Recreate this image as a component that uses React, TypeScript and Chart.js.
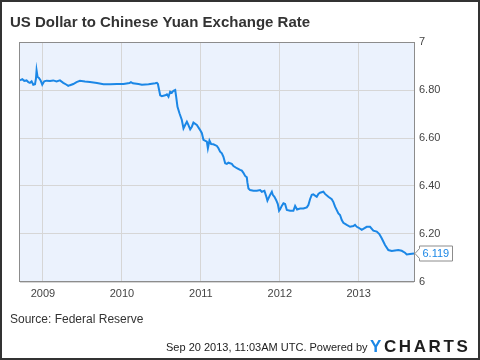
import React, { useEffect, useRef } from "react";
import { Chart, registerables } from "chart.js";

Chart.register(...registerables);

const title = "US Dollar to Chinese Yuan Exchange Rate";
const sourceText = "Source: Federal Reserve";
const footerText = "Sep 20 2013, 11:03AM UTC. Powered by";

// decimal years
const dates = [
  2008.709, 2008.738, 2008.763, 2008.792, 2008.814, 2008.835, 2008.856, 2008.877, 2008.899, 2008.911,
  2008.919, 2008.932, 2008.949, 2008.970, 2008.991, 2009.016, 2009.046, 2009.089, 2009.130, 2009.172,
  2009.215, 2009.257, 2009.299, 2009.320, 2009.342, 2009.384, 2009.425, 2009.468, 2009.532, 2009.595,
  2009.684, 2009.767, 2009.852, 2009.937, 2010.020, 2010.096, 2010.114, 2010.139, 2010.210, 2010.253,
  2010.337, 2010.422, 2010.443, 2010.456, 2010.468, 2010.485, 2010.506, 2010.548, 2010.570, 2010.590,
  2010.611, 2010.633, 2010.653, 2010.675, 2010.687, 2010.704, 2010.729, 2010.759, 2010.780, 2010.801,
  2010.823, 2010.843, 2010.865, 2010.886, 2010.906, 2010.949, 2010.991, 2011.013, 2011.033, 2011.076,
  2011.089, 2011.109, 2011.130, 2011.159, 2011.203, 2011.223, 2011.244, 2011.266, 2011.286, 2011.308,
  2011.329, 2011.349, 2011.392, 2011.413, 2011.456, 2011.497, 2011.519, 2011.539, 2011.561, 2011.582,
  2011.590, 2011.603, 2011.624, 2011.666, 2011.709, 2011.751, 2011.772, 2011.805, 2011.827, 2011.843,
  2011.877, 2011.899, 2011.911, 2011.932, 2011.953, 2011.975, 2011.991, 2012.004, 2012.025, 2012.046,
  2012.067, 2012.089, 2012.130, 2012.172, 2012.194, 2012.219, 2012.257, 2012.299, 2012.342, 2012.362,
  2012.384, 2012.405, 2012.425, 2012.468, 2012.489, 2012.510, 2012.552, 2012.573, 2012.615, 2012.658,
  2012.679, 2012.700, 2012.742, 2012.763, 2012.785, 2012.805, 2012.848, 2012.890, 2012.932, 2012.953,
  2012.975, 2012.995, 2013.038, 2013.058, 2013.101, 2013.143, 2013.185, 2013.228, 2013.261, 2013.291,
  2013.333, 2013.375, 2013.418, 2013.459, 2013.501, 2013.544, 2013.586, 2013.608, 2013.649, 2013.700,
];

const rates = [
  6.840, 6.845, 6.838, 6.840, 6.833, 6.830, 6.836, 6.822, 6.824, 6.847,
  6.882, 6.854, 6.850, 6.840, 6.822, 6.836, 6.839, 6.838, 6.840, 6.836,
  6.840, 6.830, 6.822, 6.817, 6.820, 6.825, 6.833, 6.838, 6.835, 6.833,
  6.829, 6.824, 6.824, 6.825, 6.825, 6.829, 6.833, 6.828, 6.825, 6.822,
  6.824, 6.828, 6.830, 6.825, 6.805, 6.778, 6.774, 6.778, 6.782, 6.772,
  6.793, 6.789, 6.797, 6.800, 6.772, 6.730, 6.703, 6.675, 6.640, 6.654,
  6.668, 6.654, 6.636, 6.647, 6.664, 6.654, 6.633, 6.620, 6.592, 6.585,
  6.557, 6.589, 6.575, 6.574, 6.567, 6.557, 6.543, 6.536, 6.522, 6.495,
  6.492, 6.497, 6.492, 6.483, 6.474, 6.467, 6.464, 6.455, 6.442, 6.436,
  6.414, 6.390, 6.383, 6.380, 6.380, 6.383, 6.376, 6.380, 6.358, 6.339,
  6.363, 6.376, 6.363, 6.355, 6.342, 6.325, 6.297, 6.303, 6.317, 6.328,
  6.325, 6.300, 6.297, 6.297, 6.317, 6.302, 6.306, 6.306, 6.311, 6.321,
  6.346, 6.363, 6.365, 6.355, 6.367, 6.372, 6.376, 6.367, 6.355, 6.345,
  6.333, 6.314, 6.286, 6.279, 6.258, 6.247, 6.238, 6.230, 6.233, 6.238,
  6.230, 6.227, 6.217, 6.221, 6.230, 6.230, 6.214, 6.210, 6.200, 6.182,
  6.154, 6.133, 6.129, 6.131, 6.133, 6.130, 6.122, 6.115, 6.117, 6.119,
];

const yearTicks = [2009, 2010, 2011, 2012, 2013];
const rateTicks = [6, 6.2, 6.4, 6.6, 6.8, 7];
const lastLabel = "6.119";

const BLUE = "#1b87e6";
const FONT = "'Liberation Sans', Arial, sans-serif";

const decorPlugin = {
  id: "decor",
  beforeDraw(chart: any) {
    const { ctx, chartArea: a } = chart;
    ctx.save();
    ctx.fillStyle = "#ffffff";
    ctx.fillRect(0, 0, chart.width, chart.height);
    ctx.fillStyle = "#ebf2fd";
    ctx.fillRect(a.left, a.top, a.right - a.left, a.bottom - a.top);
    ctx.restore();
  },
  afterDraw(chart: any) {
    const { ctx, chartArea: a } = chart;
    ctx.save();
    // plot border
    ctx.strokeStyle = "#8c8c8c";
    ctx.lineWidth = 1;
    ctx.strokeRect(Math.round(a.left) - 0.5, Math.round(a.top) + 0.5, Math.round(a.right - a.left) + 1, Math.round(a.bottom - a.top) - 1);

    // last value label
    const meta = chart.getDatasetMeta(0);
    const pt = meta.data[meta.data.length - 1];
    if (pt) {
      const y = Math.round(pt.y) + 0.5;
      const tip = Math.round(a.right) + 1;
      const bx = tip + 4.5;
      const bw = 33;
      const bh = 15;
      const top = y - bh / 2;
      ctx.beginPath();
      ctx.moveTo(tip, y);
      ctx.lineTo(bx, y - 5);
      ctx.lineTo(bx, top);
      ctx.lineTo(bx + bw, top);
      ctx.lineTo(bx + bw, top + bh);
      ctx.lineTo(bx, top + bh);
      ctx.lineTo(bx, y + 5);
      ctx.closePath();
      ctx.fillStyle = "#ffffff";
      ctx.fill();
      ctx.strokeStyle = "#8c8c8c";
      ctx.stroke();
      ctx.fillStyle = BLUE;
      ctx.font = `11px ${FONT}`;
      ctx.textBaseline = "middle";
      ctx.textAlign = "left";
      ctx.fillText(lastLabel, bx + 3, y + 0.5);
    }

    // title
    ctx.fillStyle = "#333333";
    ctx.textAlign = "left";
    ctx.textBaseline = "alphabetic";
    ctx.font = `bold 15px ${FONT}`;
    ctx.fillText(title, 10, 27);

    // source
    ctx.fillStyle = "#333333";
    ctx.font = `12px ${FONT}`;
    ctx.fillText(sourceText, 10, 323);

    // footer
    ctx.font = `11px ${FONT}`;
    ctx.fillStyle = "#222222";
    ctx.fillText(footerText, 166, 351);

    // logo
    ctx.font = `bold 17px ${FONT}`;
    const letters = "YCHARTS".split("");
    let lx = 370;
    letters.forEach((ch, i) => {
      ctx.fillStyle = i === 0 ? BLUE : "#1e1e1e";
      ctx.fillText(ch, lx, 352);
      lx += ctx.measureText(ch).width + 2.6;
    });

    // outer frame
    ctx.strokeStyle = "#333333";
    ctx.lineWidth = 2;
    ctx.strokeRect(1, 1, chart.width - 2, chart.height - 2);
    ctx.restore();
  },
};

export default function App() {
  const ref = useRef<HTMLCanvasElement | null>(null);

  useEffect(() => {
    if (!ref.current) return;
    const n = Math.min(dates.length, rates.length);
    const points = [];
    for (let i = 0; i < n; i++) points.push({ x: dates[i], y: rates[i] });

    const chart = new Chart(ref.current, {
      type: "line",
      data: {
        datasets: [
          {
            data: points,
            borderColor: BLUE,
            borderWidth: 2,
            pointRadius: 0,
            tension: 0,
            fill: false,
          },
        ],
      },
      options: {
        animation: false,
        responsive: false,
        maintainAspectRatio: false,
        layout: { padding: { left: 20, top: 42, right: 16, bottom: 48 } },
        plugins: { legend: { display: false }, tooltip: { enabled: false }, title: { display: false } },
        scales: {
          x: {
            type: "linear",
            min: dates[0],
            max: dates[dates.length - 1],
            afterBuildTicks: (s: any) => {
              s.ticks = yearTicks.map((v) => ({ value: v }));
            },
            afterFit: (s: any) => {
              s.height = 30;
            },
            grid: { color: "#d6d6d6", drawTicks: false, lineWidth: 1 },
            border: { display: false },
            ticks: {
              padding: 5,
              color: "#444444",
              font: { family: FONT, size: 11 },
              maxRotation: 0,
              autoSkip: false,
              callback: (v: any) => String(v),
            },
          },
          y: {
            type: "linear",
            position: "right",
            min: 6,
            max: 7,
            afterBuildTicks: (s: any) => {
              s.ticks = rateTicks.map((v) => ({ value: v }));
            },
            afterFit: (s: any) => {
              s.width = 50;
            },
            grid: { color: "#d6d6d6", drawTicks: false, lineWidth: 1 },
            border: { display: false },
            ticks: {
              padding: 5,
              color: "#444444",
              font: { family: FONT, size: 11 },
              autoSkip: false,
              callback: (v: any) => {
                const num = Number(v);
                if (Math.abs(num - 6) < 1e-6 || Math.abs(num - 7) < 1e-6) return String(Math.round(num));
                return num.toFixed(2);
              },
            },
          },
        },
      },
      plugins: [decorPlugin],
    });
    return () => chart.destroy();
  }, []);

  return (
    <div style={{ position: "fixed", left: 0, top: 0, width: 480, height: 360 }}>
      <canvas ref={ref} width={480} height={360} style={{ display: "block", width: 480, height: 360 }} />
    </div>
  );
}
